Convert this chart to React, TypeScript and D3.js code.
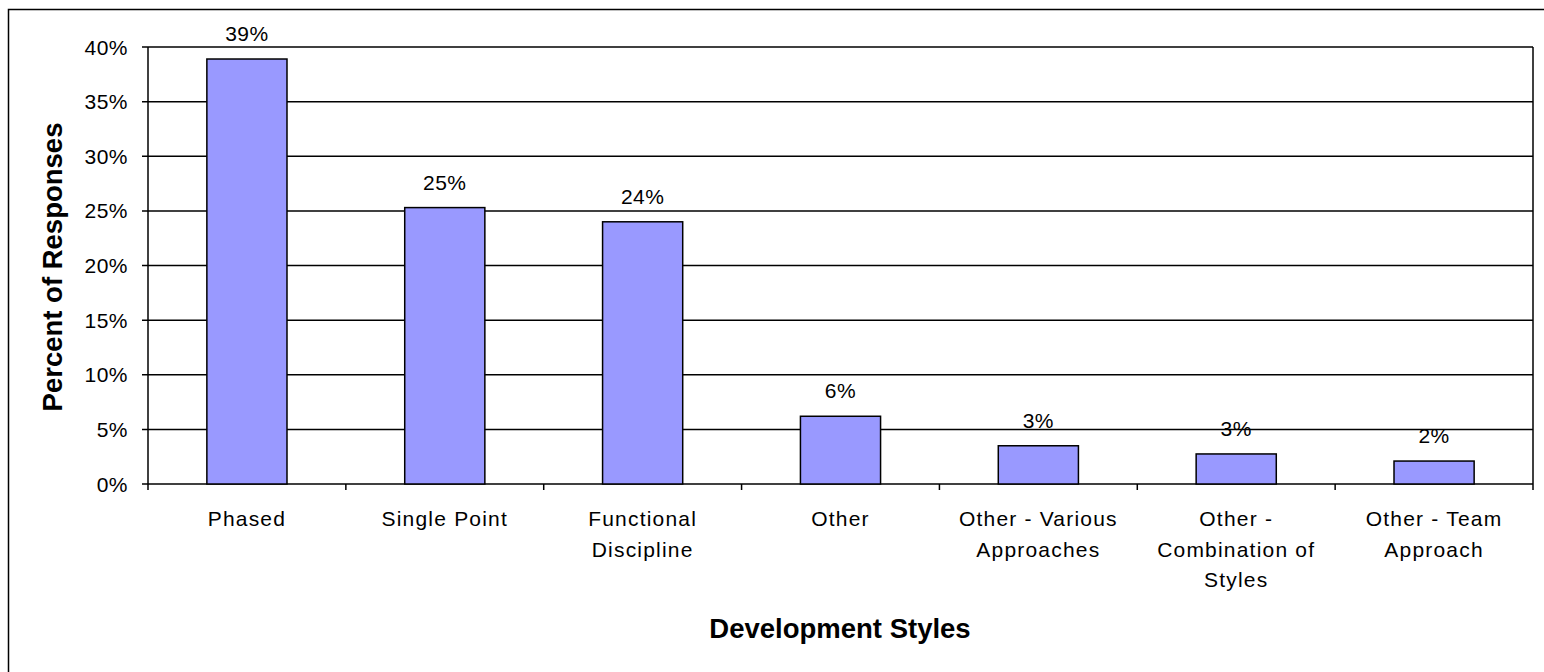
import React from "react";
import * as d3 from "d3";

const categories: string[][] = [
  ["Phased"],
  ["Single Point"],
  ["Functional", "Discipline"],
  ["Other"],
  ["Other - Various", "Approaches"],
  ["Other -", "Combination of", "Styles"],
  ["Other - Team", "Approach"],
];
const values: number[] = [38.9, 25.3, 24.0, 6.2, 3.5, 2.75, 2.1];
const dataLabels: string[] = ["39%", "25%", "24%", "6%", "3%", "3%", "2%"];
const yTicks: number[] = [0, 5, 10, 15, 20, 25, 30, 35, 40];

const W = 1544;
const H = 672;
const plot = { left: 148, right: 1533, top: 47, bottom: 484 };
const FONT = "'Liberation Sans', Arial, sans-serif";

export default function App() {
  const x = d3
    .scaleBand<number>()
    .domain(d3.range(categories.length))
    .range([plot.left, plot.right])
    .paddingInner(0.595)
    .paddingOuter(0.2975);
  const x0 = d3
    .scaleBand<number>()
    .domain(d3.range(categories.length))
    .range([plot.left, plot.right]);
  const y = d3.scaleLinear().domain([0, 40]).range([plot.bottom, plot.top]);

  return (
    <svg
      width={W}
      height={H}
      style={{ position: "absolute", left: 0, top: 0, background: "#fff" }}
      fontFamily={FONT}
    >
      <rect x={8.5} y={9.5} width={W} height={H} fill="none" stroke="#000" strokeWidth={1.5} />
      {/* gridlines */}
      {yTicks.map((t) => (
        <g key={t}>
          <line x1={plot.left - 6} x2={plot.right} y1={y(t)} y2={y(t)} stroke="#000" strokeWidth={1.5} />
          <text x={128} y={y(t) + 7.5} textAnchor="end" fontSize={21} letterSpacing={0.5} fill="#000">
            {t}%
          </text>
        </g>
      ))}
      {/* axes */}
      <line x1={plot.left} x2={plot.left} y1={plot.top} y2={plot.bottom} stroke="#000" strokeWidth={1.5} />
      <line x1={plot.right} x2={plot.right} y1={plot.top} y2={plot.bottom} stroke="#000" strokeWidth={1.5} />
      {d3.range(categories.length + 1).map((i) => {
        const xx = i < categories.length ? (x0(i) as number) : plot.right;
        return <line key={i} x1={xx} x2={xx} y1={plot.bottom} y2={plot.bottom + 6} stroke="#000" strokeWidth={1.5} />;
      })}
      {/* bars */}
      {values.map((v, i) => (
        <g key={i}>
          <rect
            x={x(i)}
            y={y(v)}
            width={x.bandwidth()}
            height={plot.bottom - y(v)}
            fill="#9999FF"
            stroke="#000"
            strokeWidth={1.5}
          />
          <text
            x={(x(i) as number) + x.bandwidth() / 2}
            y={y(v) - 18}
            textAnchor="middle"
            fontSize={21}
            letterSpacing={0.5}
            fill="#000"
          >
            {dataLabels[i]}
          </text>
        </g>
      ))}
      {/* category labels */}
      {categories.map((lines, i) => (
        <text
          key={i}
          x={(x0(i) as number) + x0.bandwidth() / 2}
          textAnchor="middle"
          fontSize={21}
          letterSpacing={1.2}
          fill="#000"
        >
          {lines.map((l, j) => (
            <tspan key={j} x={(x0(i) as number) + x0.bandwidth() / 2} y={526 + j * 30.5}>
              {l}
            </tspan>
          ))}
        </text>
      ))}
      {/* axis titles */}
      <text x={840} y={638} textAnchor="middle" fontSize={27.5} fontWeight="bold" fill="#000">
        Development Styles
      </text>
      <text
        transform={`translate(62,267) rotate(-90)`}
        textAnchor="middle"
        fontSize={27.5}
        fontWeight="bold"
        fill="#000"
      >
        Percent of Responses
      </text>
    </svg>
  );
}
